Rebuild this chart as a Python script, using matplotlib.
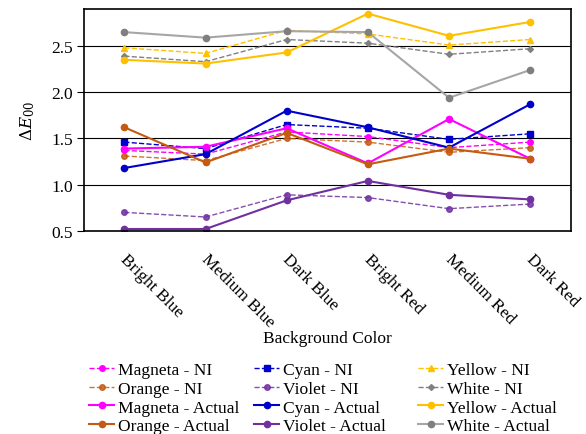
import matplotlib.pyplot as plt
import matplotlib.transforms as mtransforms

plt.rcParams['font.family'] = ['Liberation Serif', 'DejaVu Serif']
plt.rcParams['mathtext.fontset'] = 'dejavuserif'

backgrounds = ['Bright Blue', 'Medium Blue', 'Dark Blue', 'Bright Red', 'Medium Red', 'Dark Red']

magenta_ni = [1.37, 1.33, 1.57, 1.52, 1.40, 1.46]
cyan_ni = [1.46, 1.39, 1.65, 1.61, 1.49, 1.55]
yellow_ni = [2.48, 2.42, 2.67, 2.63, 2.51, 2.57]
orange_ni = [1.31, 1.26, 1.50, 1.46, 1.35, 1.40]
violet_ni = [0.70, 0.65, 0.89, 0.86, 0.74, 0.79]
white_ni = [2.39, 2.33, 2.57, 2.53, 2.41, 2.47]

magenta_act = [1.39, 1.41, 1.61, 1.23, 1.71, 1.28]
cyan_act = [1.18, 1.33, 1.80, 1.62, 1.40, 1.87]
yellow_act = [2.35, 2.31, 2.43, 2.85, 2.61, 2.76]
orange_act = [1.62, 1.24, 1.56, 1.22, 1.39, 1.28]
violet_act = [0.52, 0.52, 0.83, 1.04, 0.89, 0.84]
white_act = [2.65, 2.59, 2.66, 2.65, 1.94, 2.24]

fig = plt.figure(figsize=(5.86, 4.35), dpi=100)
ax = fig.add_axes([0.143, 0.467, 0.831, 0.510])
x = range(len(backgrounds))

lines = {}
# NI series: dashed
lines['Magneta - NI'] = ax.plot(x, magenta_ni, '--', color='#FF00FF', marker='o', ms=4, lw=1)[0]
lines['Cyan - NI'] = ax.plot(x, cyan_ni, '--', color='#0000CC', marker='s', ms=4.5, lw=1)[0]
lines['Yellow - NI'] = ax.plot(x, yellow_ni, '--', color='#FFC000', marker='^', ms=4.5, lw=1)[0]
lines['Orange - NI'] = ax.plot(x, orange_ni, '--', color='#C55A11', marker='o', ms=4, lw=1, alpha=0.85)[0]
lines['Violet - NI'] = ax.plot(x, violet_ni, '--', color='#7030A0', marker='o', ms=4, lw=1, alpha=0.85)[0]
lines['White - NI'] = ax.plot(x, white_ni, '--', color='#808080', marker='D', ms=3, lw=1)[0]
# actual series: solid
lines['Magneta - Actual'] = ax.plot(x, magenta_act, '-', color='#FF00FF', marker='o', ms=4.5, lw=1.5)[0]
lines['Cyan - Actual'] = ax.plot(x, cyan_act, '-', color='#0000CC', marker='o', ms=4.5, lw=1.5)[0]
lines['Yellow - Actual'] = ax.plot(x, yellow_act, '-', color='#FFC000', marker='o', ms=4.5, lw=1.5)[0]
lines['Orange - Actual'] = ax.plot(x, orange_act, '-', color='#C55A11', marker='o', ms=4.5, lw=1.5)[0]
lines['Violet - Actual'] = ax.plot(x, violet_act, '-', color='#7030A0', marker='o', ms=4.5, lw=1.5)[0]
lines['White - Actual'] = ax.plot(x, white_act, '-', color='#A6A6A6', marker='o', ms=4.5, lw=1.5,
                                  mfc='#7F7F7F', mec='#7F7F7F')[0]

ax.set_xlim(-0.5, 5.5)
ax.set_ylim(0.5, 2.9)
ax.set_yticks([0.5, 1.0, 1.5, 2.0, 2.5])
ax.set_yticklabels(['0.5', '1.0', '1.5', '2.0', '2.5'])
ax.grid(axis='y', color='black', lw=0.8)
ax.set_axisbelow(True)
ax.set_xticks(list(x))
ax.set_xticklabels(backgrounds, rotation=-45, ha='left', va='top', rotation_mode='anchor')
ax.tick_params(axis='x', length=0, pad=14, labelsize=12.5)
ax.tick_params(axis='y', direction='out', length=5, labelsize=12.5, pad=3)
shift = mtransforms.ScaledTranslation(4 / 100, 0, fig.dpi_scale_trans)
for lab in ax.get_xticklabels():
    lab.set_transform(lab.get_transform() + shift)
for s in ax.spines.values():
    s.set_linewidth(1.2)

ax.set_ylabel(r'$\Delta E_{00}$', fontsize=12, labelpad=10)
ax.set_xlabel('Background Color', fontsize=12.5, labelpad=0)

# legend: three columns placed separately
columns = [
    ['Magneta - NI', 'Orange - NI', 'Magneta - Actual', 'Orange - Actual'],
    ['Cyan - NI', 'Violet - NI', 'Cyan - Actual', 'Violet - Actual'],
    ['Yellow - NI', 'White - NI', 'Yellow - Actual', 'White - Actual'],
]
col_x = [89, 254, 418]
for names, cx in zip(columns, col_x):
    fig.legend([lines[k] for k in names], names, loc='upper left',
               bbox_to_anchor=(cx / 586, 0.165), frameon=False, fontsize=12.6,
               handlelength=1.45, handletextpad=0.18, labelspacing=0.13,
               borderpad=0, borderaxespad=0)

fig.savefig('out.png', dpi=100)
